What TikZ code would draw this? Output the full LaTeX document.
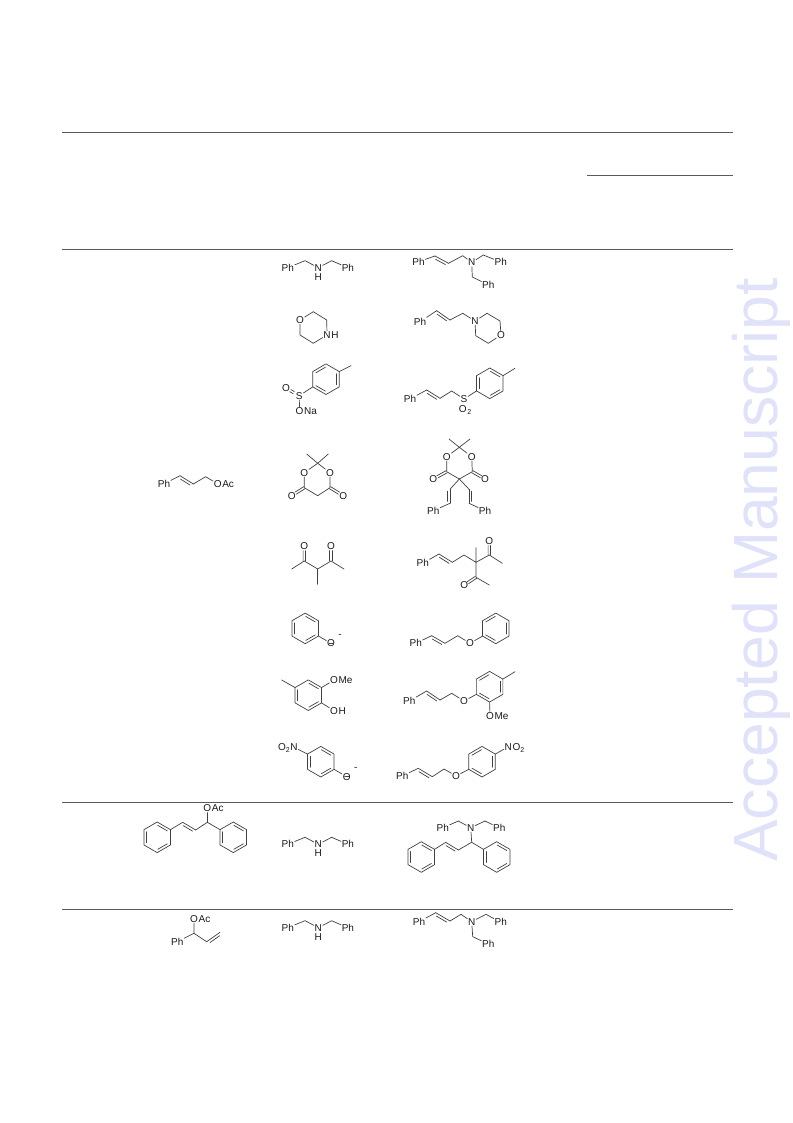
\documentclass[tikz,border=0pt]{standalone}
\usepackage{fontspec}
\setmainfont{Liberation Sans}
\usetikzlibrary{calc}
\definecolor{wmark}{HTML}{E0E2FA}
\tikzset{
  bond/.style={line width=0.7pt,draw=black!75,line cap=round,line join=round},
  rulel/.style={line width=0.8pt,draw=black!65},
  atomlab/.style={font=\fontsize{10}{12}\selectfont,text=black!90,inner sep=0.6pt},
  restlab/.style={font=\fontsize{10}{12}\selectfont,text=black!90,inner sep=0pt},
  wmtext/.style={font=\fontsize{62.5}{63}\selectfont,text=wmark,inner sep=0pt,rotate=90,anchor=base west}
}
\newcommand\sub[1]{\raisebox{-2pt}{\fontsize{7}{7}\selectfont #1}}
\newcommand\atm[3]{\node[atomlab] (#1) at (#2) {#3};}
\newcommand\atr[4]{\node[atomlab] (#1) at (#2) {#3};\node[restlab,anchor=base west] (#1r) at ([xshift=-0.3pt]#1.base east) {#4};}
\newcommand\atl[4]{\node[atomlab] (#1) at (#2) {#3};\node[restlab,anchor=base east] (#1l) at ([xshift=0.3pt]#1.base west) {#4};}
\newcommand\pnt[2]{\coordinate (#1) at (#2);}
\newcommand\obar[1]{\draw[bond] ([xshift=-2pt]#1.center)--([xshift=2pt]#1.center);}
\newcommand\dbond[3]{\draw[bond] (#1)--(#2);\draw[bond] ($(#1)!.14!(#2)!#3!90:(#2)$)--($(#2)!.14!(#1)!#3!-90:(#1)$);}
\newcommand\cobond[2]{\draw[bond] ($(#1)!1.2pt!90:(#2)$)--($(#1)!.68!(#2)!1.2pt!90:(#2)$);\draw[bond] ($(#1)!1.2pt!-90:(#2)$)--($(#1)!.68!(#2)!1.2pt!-90:(#2)$);}
\newcommand\sobond[2]{\draw[bond] ($(#1)!.42!(#2)!1.2pt!90:(#2)$)--($(#1)!.68!(#2)!1.2pt!90:(#2)$);\draw[bond] ($(#1)!.42!(#2)!1.2pt!-90:(#2)$)--($(#1)!.68!(#2)!1.2pt!-90:(#2)$);}
% pointy-top hexagon: 1 top, then clockwise on the page; #3 = A or B picks the double bonds
\newcommand\benzene[3]{%
  \coordinate (#1c) at (#2);
  \coordinate (#11) at ($(#1c)+(-90:15.3)$);\coordinate (#12) at ($(#1c)+(-30:15.3)$);
  \coordinate (#13) at ($(#1c)+(30:15.3)$);\coordinate (#14) at ($(#1c)+(90:15.3)$);
  \coordinate (#15) at ($(#1c)+(150:15.3)$);\coordinate (#16) at ($(#1c)+(210:15.3)$);
  \draw[bond] (#11)--(#12)--(#13)--(#14)--(#15)--(#16)--cycle;
  \if#3A
    \draw[bond] ($(#11)!.14!(#12)!-2.6pt!90:(#12)$)--($(#12)!.14!(#11)!-2.6pt!-90:(#11)$);
    \draw[bond] ($(#13)!.14!(#14)!-2.6pt!90:(#14)$)--($(#14)!.14!(#13)!-2.6pt!-90:(#13)$);
    \draw[bond] ($(#15)!.14!(#16)!-2.6pt!90:(#16)$)--($(#16)!.14!(#15)!-2.6pt!-90:(#15)$);
  \else
    \draw[bond] ($(#12)!.14!(#13)!-2.6pt!90:(#13)$)--($(#13)!.14!(#12)!-2.6pt!-90:(#12)$);
    \draw[bond] ($(#14)!.14!(#15)!-2.6pt!90:(#15)$)--($(#15)!.14!(#14)!-2.6pt!-90:(#14)$);
    \draw[bond] ($(#16)!.14!(#11)!-2.6pt!90:(#11)$)--($(#11)!.14!(#16)!-2.6pt!-90:(#16)$);
  \fi}
% dibenzylamine with N at #2
\newcommand\dibenzyl[2]{%
  \atm{#1p}{$(#2)+(-30.5,0)$}{Ph}\pnt{#1a}{$(#2)+(-13.3,-7)$}
  \atm{#1n}{#2}{N}\node[restlab] (#1h) at ($(#2)+(0,9)$) {H};
  \pnt{#1b}{$(#2)+(13.3,-7)$}\atm{#1q}{$(#2)+(29.6,0)$}{Ph}
  \draw[bond] (#1p)--(#1a)--(#1n)--(#1b)--(#1q);}
\begin{document}
\begin{tikzpicture}[x=1pt,y=-1pt]
\useasboundingbox (0,0) rectangle (792,1123);
\node[wmtext] (wm) at (777,862) {Accepted Manuscript};
% table rules
\foreach \n/\l/\r/\yy in {ra/62/733/132,rb/587/733/175,rc/62/733/249,rd/62/733/802,re/62/733/909}{
  \coordinate (\n l) at (\l,\yy);\coordinate (\n r) at (\r,\yy);
  \draw[rulel] (\n l)--(\n r);}
% row 1 reagent
\dibenzyl{ma}{318.3,267.7}
% row 1 product
\atm{pap}{418.5,261.7}{Ph}\pnt{paa}{435,256}\pnt{pab}{448.5,263.3}\pnt{pac}{462.7,255.7}
\atm{pan}{471.7,262.5}{N}\pnt{pad}{483.3,255}\atm{paq}{500.7,262}{Ph}
\pnt{pae}{472.3,277}\pnt{paf}{481.7,282.5}\atm{par}{488.3,285}{Ph}
\draw[bond] (pap)--(paa);\dbond{paa}{pab}{-2.6pt}
\draw[bond] (pab)--(pac)--(pan)--(pad)--(paq);
\draw[bond] (pan)--(pae)--(par);
% row 2 morpholine
\atm{mbo}{300,320}{O}\pnt{mb1}{313.3,311.7}\pnt{mb2}{326.7,320}
\atr{mbn}{327,335}{N}{H}\pnt{mb3}{313.3,343.3}\pnt{mb4}{300,335}
\draw[bond] (mbo)--(mb1)--(mb2)--(mbn)--(mb3)--(mb4)--(mbo);
% row 2 product
\atm{pbp}{420,321.7}{Ph}\pnt{pba}{436.7,310.7}\pnt{pbb}{450,320}\pnt{pbc}{462.7,313.3}
\atm{pbn}{475,321}{N}\pnt{pb1}{487,313.3}\pnt{pb2}{500,321}\atm{pbo}{501,335}{O}
\pnt{pb3}{488.3,343.3}\pnt{pb4}{475.7,335.7}
\draw[bond] (pbp)--(pba);\dbond{pba}{pbb}{-2.6pt}
\draw[bond] (pbb)--(pbc)--(pbn)--(pb1)--(pb2)--(pbo)--(pb3)--(pb4)--(pbn);
% row 3 tosylate
\benzene{mc}{326,379.2}{B}
\pnt{mcm}{351,365.7}\atm{mcs}{299.3,395.7}{S}\atm{mcd}{286,388.3}{O}\atr{mco}{299.5,411}{O}{Na}
\draw[bond] (mc2)--(mcm);\draw[bond] (mc5)--(mcs)--(mco);\sobond{mcs}{mcd}
% row 3 product
\atm{pcp}{410,399}{Ph}\pnt{pca}{426.7,390}\pnt{pcb}{440,398.3}\pnt{pcc}{451.7,391}
\atm{pcs}{464,399}{S}\atr{pco}{462.7,409.5}{O}{\sub{2}}
\benzene{pcr}{489.8,383.3}{A}\pnt{pcm}{515,368.3}
\draw[bond] (pcp)--(pca);\dbond{pca}{pcb}{-2.6pt}
\draw[bond] (pcb)--(pcc)--(pcs)--(pcr5);\draw[bond] (pcr2)--(pcm);
% row 4 Meldrum's acid
\pnt{md2}{317.7,463.3}\pnt{mdx}{306.7,454}\pnt{mdy}{328.3,454}
\atm{mdo}{304.3,472.7}{O}\atm{mdq}{330,472.7}{O}\pnt{md4}{304.3,487.7}\pnt{md6}{330,487.7}\pnt{md5}{317.7,495.7}
\atm{mdu}{291.7,495.7}{O}\atm{mdv}{343.3,495.7}{O}
\draw[bond] (mdx)--(md2)--(mdy);\draw[bond] (md2)--(mdo)--(md4)--(md5)--(md6)--(mdq)--(md2);
\cobond{md4}{mdu}\cobond{md6}{mdv}
% row 4 product
\pnt{pd2}{459.3,447.3}\pnt{pdx}{449,439}\pnt{pdy}{470,439}
\atm{pdo}{446.7,456.7}{O}\atm{pdq}{471.7,456.7}{O}\pnt{pd4}{446.7,471.7}\pnt{pd6}{472.3,471.7}\pnt{pd5}{459.3,479}
\atm{pdu}{433.3,479}{O}\atm{pdv}{485,479}{O}
\pnt{pda}{450,489.3}\pnt{pdb}{450,503.3}\atm{pdp}{433.3,510.7}{Ph}
\pnt{pdc}{469,489.3}\pnt{pdd}{469,503.3}\atm{pdr}{485,510.7}{Ph}
\draw[bond] (pdx)--(pd2)--(pdy);\draw[bond] (pd2)--(pdo)--(pd4)--(pd5)--(pd6)--(pdq)--(pd2);
\cobond{pd4}{pdu}\cobond{pd6}{pdv}
\draw[bond] (pd5)--(pda);\dbond{pda}{pdb}{-2.6pt}\draw[bond] (pdb)--(pdp);
\draw[bond] (pd5)--(pdc);\dbond{pdc}{pdd}{2.6pt}\draw[bond] (pdd)--(pdr);
% row 5 diketone
\atm{meo}{304.3,545.7}{O}\atm{meq}{331,545.7}{O}\pnt{mec}{304.3,561}\pnt{med}{331,561}
\pnt{mex}{291.7,569}\pnt{mey}{317.7,569}\pnt{mez}{317.7,584.3}\pnt{mew}{344,569}
\cobond{mec}{meo}\cobond{med}{meq}
\draw[bond] (mex)--(mec)--(mey)--(med)--(mew);\draw[bond] (mey)--(mez);
% row 5 product
\atm{pep}{422.7,563.3}{Ph}\pnt{pea}{439,554}\pnt{peb}{452.3,562.3}\pnt{pec}{464,555}\pnt{ped}{476,562.3}
\pnt{pem}{476,547.7}\pnt{pee}{489.3,555}\atm{peo}{489.3,541}{O}\pnt{pex}{502.3,563.3}
\pnt{pef}{476,577.3}\atm{peq}{464.3,585}{O}\pnt{pey}{489.3,585}
\draw[bond] (pep)--(pea);\dbond{pea}{peb}{-2.6pt}
\draw[bond] (peb)--(pec)--(ped)--(pem);\draw[bond] (ped)--(pee)--(pex);\cobond{pee}{peo}
\draw[bond] (ped)--(pef)--(pey);\cobond{pef}{peq}
% row 6 phenoxide
\benzene{mf}{305.2,628.4}{A}\atm{mfo}{331,643.3}{O}\node[atomlab] (mfn) at (340,636) {-};
\draw[bond] (mf3)--(mfo);\obar{mfo}
% row 6 product
\atm{pfp}{415.7,643.3}{Ph}\pnt{pfa}{431.7,635.7}\pnt{pfb}{445,643.3}\pnt{pfc}{457.7,635.7}\atm{pfo}{470,643.3}{O}
\benzene{pfr}{495.8,628.4}{B}
\draw[bond] (pfp)--(pfa);\dbond{pfa}{pfb}{-2.6pt}\draw[bond] (pfb)--(pfc)--(pfo)--(pfr5);
% row 7 creosol
\benzene{mg}{308.3,695.2}{A}\pnt{mgm}{281.7,680}\atr{mgo}{334,680}{O}{Me}\atr{mgh}{334,710.7}{O}{H}
\draw[bond] (mg6)--(mgm);\draw[bond] (mg2)--(mgo);\draw[bond] (mg3)--(mgh);
% row 7 product
\atm{pgp}{409.3,701}{Ph}\pnt{pga}{426.7,691}\pnt{pgb}{440,700}\pnt{pgc}{451.7,693.3}\atm{pgo}{464,701}{O}
\benzene{pgr}{489.6,686.7}{B}\pnt{pgm}{515,671.7}\atr{pgq}{490,716}{O}{Me}
\draw[bond] (pgp)--(pga);\dbond{pga}{pgb}{-2.6pt}\draw[bond] (pgb)--(pgc)--(pgo)--(pgr5);
\draw[bond] (pgr2)--(pgm);\draw[bond] (pgr4)--(pgq);
% row 8 nitrophenoxide
\benzene{mh}{320.8,761.7}{A}\atl{mhn}{294,747.3}{N}{O\sub{2}}\atm{mho}{346.7,776.7}{O}\node[atomlab] (mhm) at (355.7,769.3) {-};
\draw[bond] (mhn)--(mh6);\draw[bond] (mh3)--(mho);\obar{mho}
% row 8 product
\atm{php}{402.3,776}{Ph}\pnt{pha}{418.3,768.3}\pnt{phb}{432.3,776.7}\pnt{phc}{444,769}\atm{pho}{456,776}{O}
\benzene{phr}{482,761.7}{B}\atr{phn}{508.3,746.7}{N}{O\sub{2}}
\draw[bond] (php)--(pha);\dbond{pha}{phb}{-2.6pt}\draw[bond] (phb)--(phc)--(pho)--(phr5);\draw[bond] (phr2)--(phn);
% left substrate
\atm{sap}{164,484}{Ph}\pnt{saa}{180,475.7}\pnt{sab}{193.3,484}\pnt{sac}{205.7,476.7}\atr{sao}{217.7,484}{O}{Ac}
\draw[bond] (sap)--(saa);\dbond{saa}{sab}{-2.6pt}\draw[bond] (sab)--(sac)--(sao);
% row 9 substrate
\benzene{sbl}{157.2,837.3}{A}\benzene{sbr}{233.3,837.3}{A}
\pnt{sba}{182.7,822.3}\pnt{sbb}{195.7,830}\pnt{sbc}{207.3,822.3}\atr{sbo}{207.3,808.3}{O}{Ac}
\draw[bond] (sbl2)--(sba);\dbond{sba}{sbb}{-2.6pt}\draw[bond] (sbb)--(sbc)--(sbr6);\draw[bond] (sbc)--(sbo);
% row 9 nucleophile
\dibenzyl{mi}{318.3,844.3}
% row 9 product
\atm{pip}{442.7,828}{Ph}\pnt{pia}{458.3,821}\atm{pin}{470.7,827.7}{N}\pnt{pib}{485,821}\atm{piq}{499.3,828}{Ph}
\pnt{pic}{471.7,842.3}\pnt{pid}{458.3,850}\pnt{pie}{445.7,842.3}
\benzene{pil}{421.3,857}{A}\benzene{pir}{496.7,857}{A}
\draw[bond] (pip)--(pia)--(pin)--(pib)--(piq);\draw[bond] (pin)--(pic)--(pid);
\draw[bond] (pic)--(pir6);\dbond{pid}{pie}{2.6pt}\draw[bond] (pie)--(pil2);
% row 10 substrate
\atr{sco}{194,919}{O}{Ac}\pnt{scc}{194,933.3}\atm{scp}{177.3,941.7}{Ph}\pnt{sca}{206.7,941.7}\pnt{scb}{220,932.3}
\draw[bond] (sco)--(scc)--(scp);\draw[bond] (scc)--(sca);\dbond{sca}{scb}{-2.6pt}
% row 10 nucleophile
\dibenzyl{mj}{318.3,927.7}
% row 10 product
\atm{pjp}{419,921.7}{Ph}\pnt{pja}{435.7,912.7}\pnt{pjb}{450,921}\pnt{pjc}{461,914.3}\atm{pjn}{471.7,921.7}{N}
\pnt{pjd}{486,914.3}\atm{pjq}{500.7,922.3}{Ph}\pnt{pje}{472.7,936.7}\pnt{pjf}{481.7,941.7}\atm{pjr}{488.3,944}{Ph}
\draw[bond] (pjp)--(pja);\dbond{pja}{pjb}{-2.6pt}\draw[bond] (pjb)--(pjc)--(pjn)--(pjd)--(pjq);\draw[bond] (pjn)--(pje)--(pjr);
\end{tikzpicture}
\end{document}
